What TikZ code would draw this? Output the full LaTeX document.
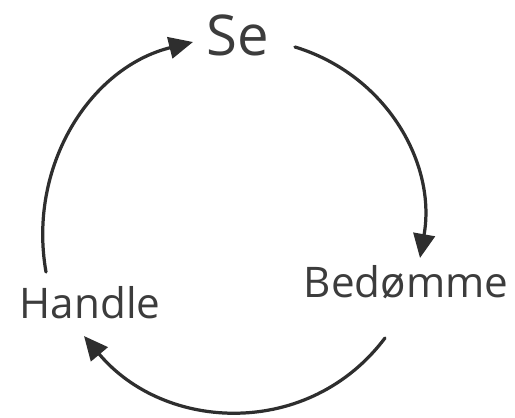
\documentclass[tikz,border=0pt]{standalone}
\usepackage{fontspec}
\setmainfont{Open Sans}
\usepackage{xcolor}
\usetikzlibrary{arrows.meta,calc}
\definecolor{ink}{HTML}{2E2E2E}
\definecolor{inkSoft}{HTML}{3C3C3C}
\tikzset{
  every node/.append style = {text=inkSoft},
  % --- words on the cycle -------------------------------------------------
  word/.style     = {font=\fontsize{30}{34}\selectfont, inner sep=2pt},
  bigword/.style  = {word, font=\fontsize{40}{44}\selectfont},
  % --- arcs ---------------------------------------------------------------
  cycarrow/.style = {draw=ink, line width=2.3pt, line cap=round,
                     -{Triangle[length=6mm,width=5.4mm]}},
}

\begin{document}
\begin{tikzpicture}[x=0.025cm, y=-0.025cm]
\useasboundingbox (0,0) rectangle (515,418);

% ==================== the three steps ======================================
\node[bigword] (se)      at (238,35)  {Se};
\node[word]    (bedomme) at (406,282) {Bedømme};
\node[word]    (handle)  at (90,303)  {Handle};

% ==================== clockwise arcs =======================================
\draw[cycarrow] ($(se)+(57,12)$) to[out=-17, in=80]
      ($(bedomme)+(14,-24)$);
\draw[cycarrow] ($(bedomme)+(-21,56)$) to[out=-127, in=-50, looseness=1.07]
      ($(handle)+(-6,33)$);
\draw[cycarrow] ($(handle)+(-44,-31)$) to[out=100, in=194]
      ($(se)+(-45,7)$);

\end{tikzpicture}
\end{document}
